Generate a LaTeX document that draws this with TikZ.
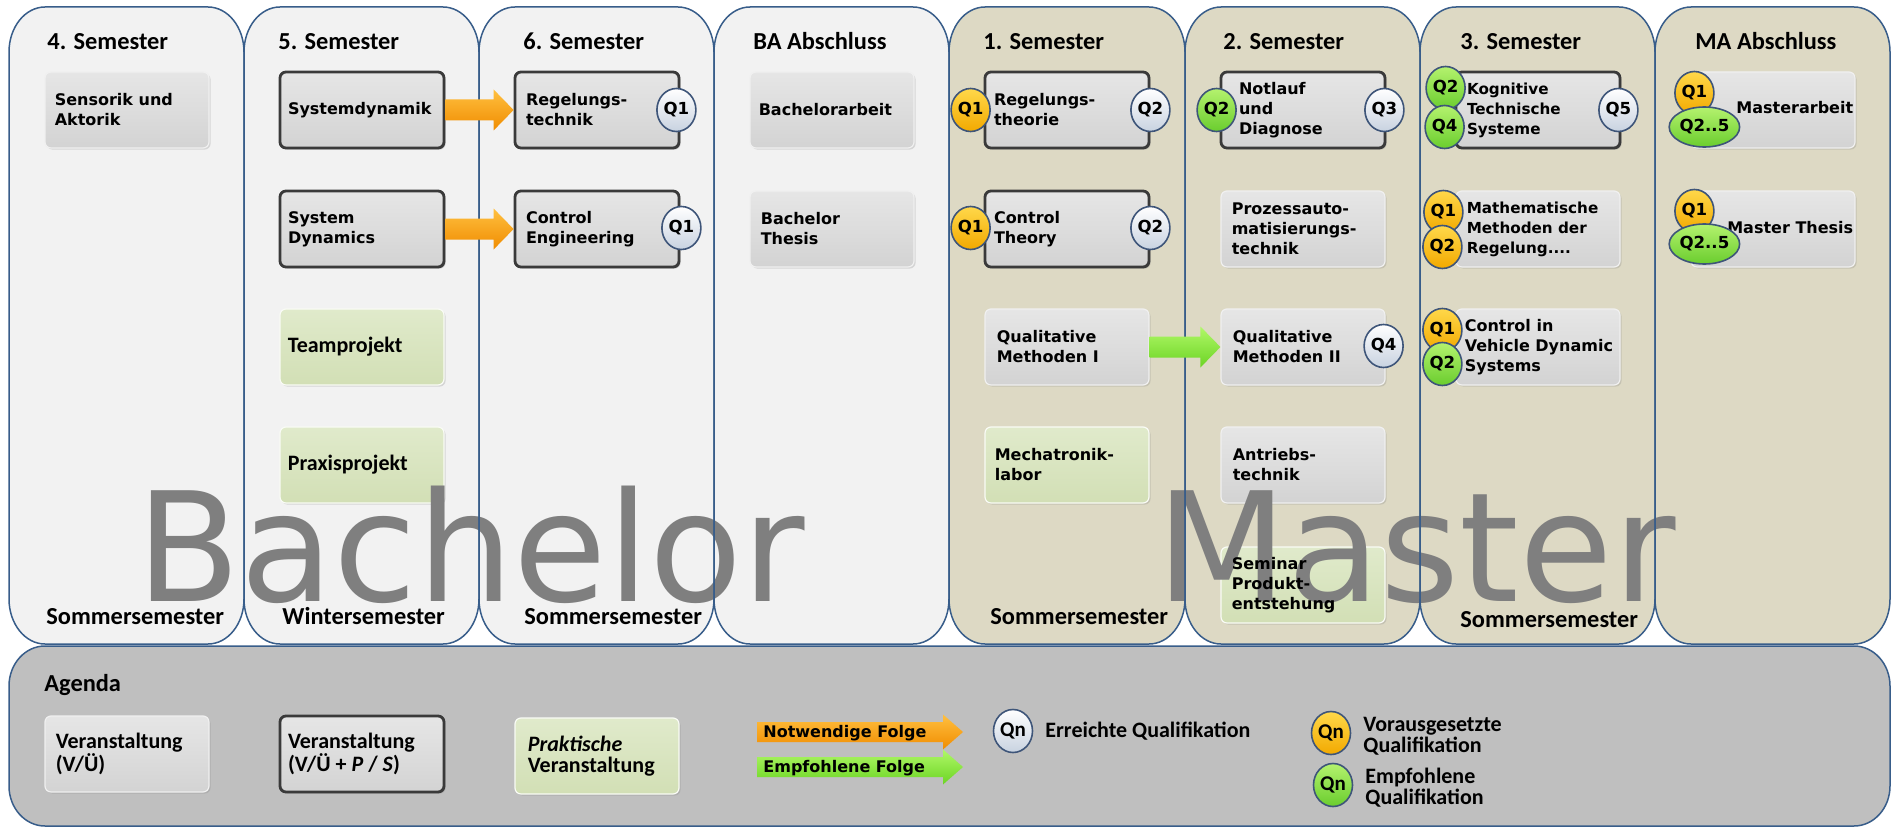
\documentclass[tikz,border=0pt]{standalone}
\usepackage{fontspec}
\setmainfont{DejaVu Sans}
\newfontfamily\calb{Carlito}
\newfontfamily\verd{DejaVu Sans}
\usetikzlibrary{calc,shadows,shapes.geometric}

% colours
\definecolor{rahmen}{HTML}{385D8A}
\definecolor{bafill}{HTML}{F2F2F2}
\definecolor{mafill}{HTML}{DDD9C4}
\definecolor{agfill}{HTML}{BFBFBF}
\definecolor{wmgray}{HTML}{7F7F7F}
\definecolor{boxtop}{HTML}{E6E6E6}
\definecolor{boxbot}{HTML}{D3D3D3}
\definecolor{grtop}{HTML}{E0EACB}
\definecolor{grbot}{HTML}{D2DFB5}
\definecolor{dunkel}{HTML}{3A3A3A}
\definecolor{qrand}{HTML}{3E5579}
\definecolor{qwbot}{HTML}{C8D2E0}
\definecolor{qytop}{HTML}{FFD84A}
\definecolor{qybot}{HTML}{F2A900}
\definecolor{qgtop}{HTML}{B4F26E}
\definecolor{qgbot}{HTML}{6ACD2E}
\definecolor{ortop}{HTML}{FFC040}
\definecolor{orbot}{HTML}{F08C00}
\definecolor{gntop}{HTML}{B0F868}
\definecolor{gnbot}{HTML}{6CD424}

\pgfdeclarelayer{bg}
\pgfdeclarelayer{wm}
\pgfdeclarelayer{lines}
\pgfdeclarelayer{fg}
\pgfsetlayers{bg,main,wm,lines,fg}

% rounded rectangle with elliptical corners: x0,y0,x1,y1,rx,ry,options
\newcommand\rrect[7]{%
  \path[#7] (#1,#2+#6) -- (#1,#4-#6)
    arc[start angle=180,end angle=90,x radius=#5,y radius=#6] -- (#3-#5,#4)
    arc[start angle=90,end angle=0,x radius=#5,y radius=#6] -- (#3,#2+#6)
    arc[start angle=0,end angle=-90,x radius=#5,y radius=#6] -- (#1+#5,#2)
    arc[start angle=-90,end angle=-180,x radius=#5,y radius=#6] -- cycle;}

% block arrow: start, tip, shaft half height, head half height, head length, top colour, bottom colour
\newcommand\pfeil[7]{%
  \shade[top color=#6,bottom color=#7]
    ($(#1)+(0,-#3)$) -- ($(#2)+(-#5,-#3)$) -- ($(#2)+(-#5,-#4)$) -- (#2)
    -- ($(#2)+(-#5,#4)$) -- ($(#2)+(-#5,#3)$) -- ($(#1)+(0,#3)$) -- cycle;}

% module box: style, name, x, y, text style, text indent, text
\newcommand\modul[7]{%
  \node[#1] (#2) at (#3,#4) {};
  \begin{pgfonlayer}{fg}
    \node[#5] (#2-t) at ($(#2.west)+(#6,0)$) {#7};
  \end{pgfonlayer}}

\tikzset{
  box/.style={rectangle,rounded corners=3pt,minimum width=82pt,minimum height=38pt,inner sep=0pt},
  plainbox/.style={box,top color=boxtop,bottom color=boxbot,draw=white!88!gray,line width=0.6pt,
    drop shadow={shadow xshift=0.8pt,shadow yshift=-0.8pt,opacity=0.25}},
  darkbox/.style={box,top color=boxtop,bottom color=boxbot,draw=dunkel,line width=1.4pt,
    drop shadow={shadow xshift=0.8pt,shadow yshift=-0.8pt,opacity=0.4}},
  greenbox/.style={box,top color=grtop,bottom color=grbot,draw=white!80!grtop,line width=0.6pt,
    drop shadow={shadow xshift=0.8pt,shadow yshift=-0.8pt,opacity=0.25}},
  modtext/.style={anchor=west,align=left,inner sep=0pt,font=\verd\bfseries\fontsize{8}{10}\selectfont},
  smalltext/.style={modtext,font=\verd\bfseries\fontsize{7.6}{10}\selectfont},
  caltext/.style={anchor=west,align=left,inner sep=0pt,font=\calb\bfseries\fontsize{11}{10.5}\selectfont},
  head/.style={anchor=base west,inner sep=0pt,font=\calb\bfseries\fontsize{12.2}{14}\selectfont},
  qbase/.style={ellipse,minimum width=19.5pt,minimum height=21.5pt,inner sep=0pt,draw=qrand,line width=0.8pt,
    font=\verd\bfseries\fontsize{8.3}{9}\selectfont},
  qw/.style={qbase,top color=white,bottom color=qwbot},
  qy/.style={qbase,top color=qytop,bottom color=qybot},
  qg/.style={qbase,top color=qgtop,bottom color=qgbot},
  qwide/.style={minimum width=30pt,minimum height=20pt},
  legq/.style={font=\calb\bfseries\fontsize{10.5}{11}\selectfont},
  arrtext/.style={anchor=west,inner sep=0pt,font=\verd\bfseries\fontsize{8}{9}\selectfont},
  wmark/.style={anchor=base west,inner sep=0pt,text=wmgray,font=\verd\fontsize{76}{80}\selectfont}
}

\begin{document}
\begin{tikzpicture}[x=0.5pt,y=-0.5pt]
\useasboundingbox (0,0) rectangle (1896,829);

% semester columns and agenda strip
\begin{pgfonlayer}{bg}
  \fill[white] (0,0) rectangle (1896,829);
  \rrect{9}{7}{244}{644}{36}{45}{fill=bafill}
  \rrect{244}{7}{479}{644}{36}{45}{fill=bafill}
  \rrect{479}{7}{714}{644}{36}{45}{fill=bafill}
  \rrect{714}{7}{949}{644}{36}{45}{fill=bafill}
  \rrect{949}{7}{1185}{644}{36}{45}{fill=mafill}
  \rrect{1185}{7}{1420}{644}{36}{45}{fill=mafill}
  \rrect{1420}{7}{1655}{644}{36}{45}{fill=mafill}
  \rrect{1655}{7}{1890}{644}{36}{45}{fill=mafill}
  \rrect{9}{646}{1890}{826}{36}{40}{fill=agfill,draw=rahmen,line width=0.75pt}
\end{pgfonlayer}
\begin{pgfonlayer}{lines}
  \rrect{9}{7}{244}{644}{36}{45}{draw=rahmen,line width=0.75pt}
  \rrect{244}{7}{479}{644}{36}{45}{draw=rahmen,line width=0.75pt}
  \rrect{479}{7}{714}{644}{36}{45}{draw=rahmen,line width=0.75pt}
  \rrect{714}{7}{949}{644}{36}{45}{draw=rahmen,line width=0.75pt}
  \rrect{949}{7}{1185}{644}{36}{45}{draw=rahmen,line width=0.75pt}
  \rrect{1185}{7}{1420}{644}{36}{45}{draw=rahmen,line width=0.75pt}
  \rrect{1420}{7}{1655}{644}{36}{45}{draw=rahmen,line width=0.75pt}
  \rrect{1655}{7}{1890}{644}{36}{45}{draw=rahmen,line width=0.75pt}
\end{pgfonlayer}

% column headings
\node[head] (h4) at (47,50) {4. Semester};
\node[head] (h5) at (278,50) {5. Semester};
\node[head] (h6) at (523,50) {6. Semester};
\node[head] (hba) at (753,50) {BA Abschluss};
\node[head] (h1) at (983,50) {1. Semester};
\node[head] (h2) at (1223,50) {2. Semester};
\node[head] (h3) at (1460,50) {3. Semester};
\node[head] (hma) at (1695,50) {MA Abschluss};

% terms
\begin{pgfonlayer}{fg}
\node[head] (t4) at (46,624) {Sommersemester};
\node[head] (t5) at (282,624) {Wintersemester};
\node[head] (t6) at (524,624) {Sommersemester};
\node[head] (t1) at (990,624) {Sommersemester};
\node[head] (t3) at (1460,627) {Sommersemester};
\end{pgfonlayer}

% Bachelor modules
\modul{plainbox}{sua}{127}{110}{modtext}{10}{Sensorik und\\Aktorik}
\modul{darkbox}{sysdyn}{362}{110}{modtext}{9}{Systemdynamik}
\modul{darkbox}{sysdyn-en}{362}{229}{modtext}{9}{System\\Dynamics}
\modul{greenbox}{team}{362}{347}{caltext}{8}{Teamprojekt}
\modul{greenbox}{praxis}{362}{465}{caltext}{8}{Praxisprojekt}
\modul{darkbox}{rt}{597}{110}{modtext}{12}{Regelungs-\\technik}
\modul{darkbox}{ce}{597}{229}{modtext}{12}{Control\\Engineering}
\modul{plainbox}{ba}{832}{110}{modtext}{9}{Bachelorarbeit}
\modul{plainbox}{bt}{832}{229}{modtext}{11}{Bachelor\\Thesis}

% Master modules
\modul{darkbox}{rth}{1067}{110}{modtext}{10}{Regelungs-\\theorie}
\modul{darkbox}{cth}{1067}{229}{modtext}{10}{Control\\Theory}
\modul{plainbox}{qm1}{1067}{347}{modtext}{12}{Qualitative\\Methoden I}
\modul{greenbox}{mlab}{1067}{465}{modtext}{10}{Mechatronik-\\labor}
\modul{darkbox}{nd}{1303}{110}{modtext}{19}{Notlauf\\und\\Diagnose}
\modul{plainbox}{pat}{1303}{229}{modtext}{11}{Prozessauto-\\matisierungs-\\technik}
\modul{plainbox}{qm2}{1303}{347}{modtext}{12}{Qualitative\\Methoden II}
\modul{plainbox}{at}{1303}{465}{modtext}{12}{Antriebs-\\technik}
\modul{greenbox}{spe}{1303}{585}{modtext}{11}{Seminar\\Produkt-\\entstehung}
\modul{darkbox}{kts}{1538}{110}{smalltext}{12}{Kognitive\\Technische\\Systeme}
\modul{plainbox}{mmr}{1538}{229}{smalltext}{11}{Mathematische\\Methoden der\\Regelung....}
\modul{plainbox}{cvd}{1538}{347}{modtext}{9}{Control in\\Vehicle Dynamic\\Systems}
\node[plainbox] (ma) at (1773,110) {};
\node[plainbox] (mt) at (1773,229) {};
\begin{pgfonlayer}{fg}
  \node[modtext,anchor=east] (ma-t) at ($(ma.east)+(-2,-2)$) {Masterarbeit};
  \node[modtext,anchor=east] (mt-t) at ($(mt.east)+(-2,-1)$) {Master Thesis};
\end{pgfonlayer}

% agenda
\node[head] (agenda) at (44,691) {Agenda};
\modul{plainbox}{ag1}{127}{754}{caltext}{11}{Veranstaltung\\(V/Ü)}
\modul{darkbox}{ag2}{362}{754}{caltext}{9}{Veranstaltung\\(V/Ü + \textit{P} / \textit{S})}
\modul{greenbox}{ag3}{597}{756}{caltext}{13}{\textit{Praktische}\\Veranstaltung}

% watermark
\begin{pgfonlayer}{wm}
  \node[wmark] (wm-ba) at (136,601) {Bachelor};
  \node[wmark] (wm-ma) at (1156,601) {Master};
\end{pgfonlayer}

\begin{pgfonlayer}{fg}
  % sequence arrows
  \pfeil{sysdyn.east}{rt.west}{10.5}{20.5}{20}{ortop}{orbot}
  \pfeil{sysdyn-en.east}{ce.west}{10.5}{20.5}{20}{ortop}{orbot}
  \pfeil{qm1.east}{qm2.west}{10.5}{20.5}{20}{gntop}{gnbot}

  % legend arrows
  \coordinate (nf-a) at (757,732);
  \coordinate (nf-b) at (963,732);
  \coordinate (ef-a) at (757,767);
  \coordinate (ef-b) at (963,767);
  \pfeil{nf-a}{nf-b}{10}{17.5}{20}{ortop}{orbot}
  \pfeil{ef-a}{ef-b}{10}{17.5}{20}{gntop}{gnbot}
  \node[arrtext] (nf-t) at (763,733) {Notwendige Folge};
  \node[arrtext] (ef-t) at (763,768) {Empfohlene Folge};

  % qualification markers
  \node[qw] (rt-q) at ($(rt.east)+(-4,0)$) {Q1};
  \node[qw] (ce-q) at ($(ce.east)+(1,-1)$) {Q1};
  \node[qy] (rth-in) at ($(rth.west)+(-13,0)$) {Q1};
  \node[qw] (rth-out) at ($(rth.east)+(0,0)$) {Q2};
  \node[qy] (cth-in) at ($(cth.west)+(-13,-1)$) {Q1};
  \node[qw] (cth-out) at ($(cth.east)+(0,-1)$) {Q2};
  \node[qg] (nd-in) at ($(nd.west)+(-3,0)$) {Q2};
  \node[qw] (nd-out) at ($(nd.east)+(-2,0)$) {Q3};
  \node[qw] (qm2-out) at ($(qm2.east)+(-2,-1)$) {Q4};
  \node[qg] (kts-in1) at ($(kts.west)+(-9,-22)$) {Q2};
  \node[qg] (kts-in2) at ($(kts.west)+(-10,17)$) {Q4};
  \node[qw] (kts-out) at ($(kts.east)+(-3,0)$) {Q5};
  \node[qy] (mmr-in1) at ($(mmr.west)+(-12,-17)$) {Q1};
  \node[qy] (mmr-in2) at ($(mmr.west)+(-13,18)$) {Q2};
  \node[qy] (cvd-in1) at ($(cvd.west)+(-13,-17)$) {Q1};
  \node[qg] (cvd-in2) at ($(cvd.west)+(-13,17)$) {Q2};
  \node[qy] (ma-in1) at ($(ma.west)+(4,-17)$) {Q1};
  \node[qg,qwide] (ma-in2) at ($(ma.west)+(14,17)$) {Q2..5};
  \node[qy] (mt-in1) at ($(mt.west)+(4,-18)$) {Q1};
  \node[qg,qwide] (mt-in2) at ($(mt.west)+(14,15)$) {Q2..5};

  % legend markers
  \node[qw,legq] (lg-w) at (1013,731) {Qn};
  \node[caltext] (lg-w-t) at (1045,731) {Erreichte Qualifikation};
  \node[qy,legq] (lg-y) at (1331,733) {Qn};
  \node[caltext] (lg-y-t) at (1363,736) {Vorausgesetzte\\Qualifikation};
  \node[qg,legq] (lg-g) at (1333,785) {Qn};
  \node[caltext] (lg-g-t) at (1365,788) {Empfohlene\\Qualifikation};
\end{pgfonlayer}
\end{tikzpicture}
\end{document}
